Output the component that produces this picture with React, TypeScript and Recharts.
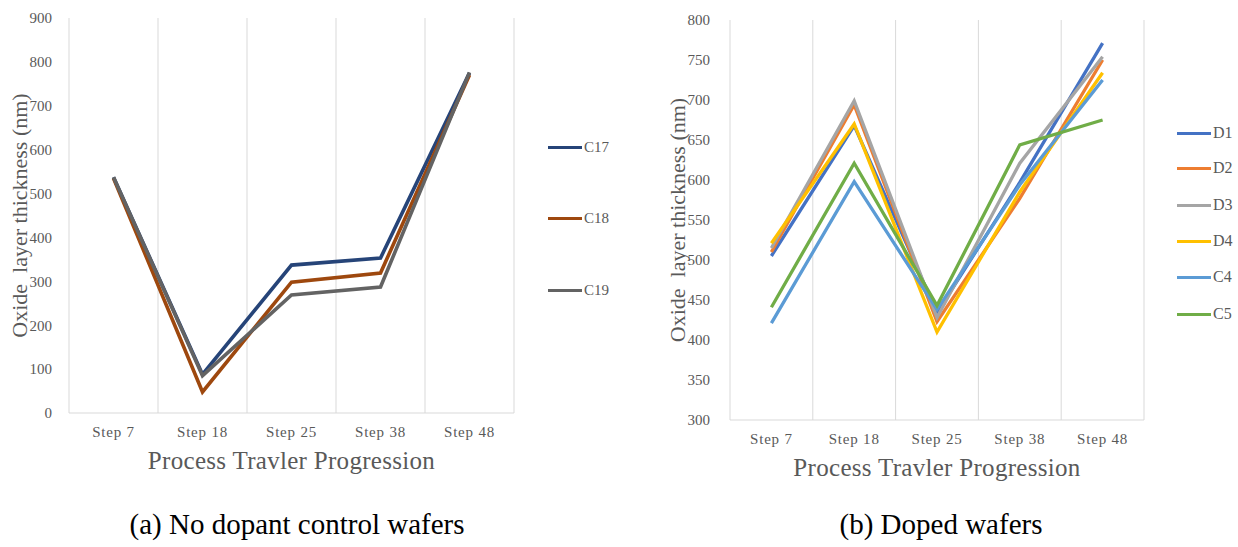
import { LineChart, Line, XAxis, YAxis, CartesianGrid } from 'recharts'

const steps = ['Step 7', 'Step 18', 'Step 25', 'Step 38', 'Step 48']

// (a) no dopant control wafers
const c17 = [537, 88, 337, 353, 775]
const c18 = [535, 48, 298, 319, 770]
const c19 = [537, 85, 269, 287, 776]
const controlTicks = [0, 100, 200, 300, 400, 500, 600, 700, 800, 900]

// (b) doped wafers
const d1 = [505, 668, 434, 597, 771]
const d2 = [510, 694, 423, 577, 750]
const d3 = [515, 699, 428, 621, 754]
const d4 = [521, 670, 410, 585, 734]
const c4 = [421, 598, 438, 594, 725]
const c5 = [441, 621, 443, 644, 675]
const dopedTicks = [300, 350, 400, 450, 500, 550, 600, 650, 700, 750, 800]

const controlSeries = [
  { key: 'C17', values: c17, color: '#264478' },
  { key: 'C18', values: c18, color: '#9E480E' },
  { key: 'C19', values: c19, color: '#636363' },
]
const dopedSeries = [
  { key: 'D1', values: d1, color: '#4472C4' },
  { key: 'D2', values: d2, color: '#ED7D31' },
  { key: 'D3', values: d3, color: '#A5A5A5' },
  { key: 'D4', values: d4, color: '#FFC000' },
  { key: 'C4', values: c4, color: '#5B9BD5' },
  { key: 'C5', values: c5, color: '#70AD47' },
]

const FONT = '"Liberation Serif", "DejaVu Serif", serif'
const TEXT_GREY = '#595959'
const GRID = '#d9d9d9'

type Series = { key: string; values: number[]; color: string }

const buildRows = (series: Series[]) =>
  steps.map((step, i) => {
    const row: Record<string, string | number> = { step }
    series.forEach((s) => (row[s.key] = s.values[i]))
    return row
  })

// vertical lines sit on the category boundaries, like Excel
const bandLines = ({ offset }: any) =>
  steps.concat('').map((_, i) => offset.left + (i * offset.width) / steps.length)

interface PanelProps {
  series: Series[]
  ticks: number[]
  width: number
  plotLeft: number
  plotRight: number
  plotTop: number
  plotBottom: number
  yTitleX: number
  yTickMargin: number
  strokeWidth: number
}

function Panel({ series, ticks, width, plotLeft, plotRight, plotTop, plotBottom, yTitleX, yTickMargin, strokeWidth }: PanelProps) {
  const height = 547
  const xAxisHeight = 60
  return (
    <LineChart
      width={width}
      height={height}
      data={buildRows(series)}
      margin={{ top: plotTop, right: width - plotRight, left: 0, bottom: height - plotBottom - xAxisHeight }}
    >
      <CartesianGrid horizontal={false} stroke={GRID} strokeWidth={1} verticalCoordinatesGenerator={bandLines} />
      <XAxis
        dataKey="step"
        scale="band"
        height={xAxisHeight}
        axisLine={{ stroke: GRID }}
        tickLine={false}
        tickMargin={7}
        interval={0}
        tick={{ fill: TEXT_GREY, fontSize: 15, fontFamily: FONT, letterSpacing: 0.8 }}
        label={(p: any) => (
          <text
            x={p.viewBox.x + p.viewBox.width / 2}
            y={p.viewBox.y + 47}
            textAnchor="middle"
            dominantBaseline="central"
            fill={TEXT_GREY}
            fontSize={25}
            fontFamily={FONT}
            letterSpacing={0.3}
          >
            Process Travler Progression
          </text>
        )}
      />
      <YAxis
        width={plotLeft}
        domain={[ticks[0], ticks[ticks.length - 1]]}
        ticks={ticks}
        interval={0}
        axisLine={false}
        tickLine={false}
        tickMargin={yTickMargin}
        tick={{ fill: TEXT_GREY, fontSize: 15, fontFamily: FONT }}
        label={(p: any) => {
          const cy = p.viewBox.y + p.viewBox.height / 2
          return (
            <text
              x={yTitleX}
              y={cy}
              transform={`rotate(-90, ${yTitleX}, ${cy})`}
              textAnchor="middle"
              dominantBaseline="central"
              fill={TEXT_GREY}
              fontSize={22}
              fontFamily={FONT}
              style={{ whiteSpace: 'pre' }}
            >
              {'Oxide  layer thickness (nm)'}
            </text>
          )
        }}
      />
      {series.map((s) => (
        <Line
          key={s.key}
          dataKey={s.key}
          stroke={s.color}
          strokeWidth={strokeWidth}
          dot={false}
          activeDot={false}
          isAnimationActive={false}
          strokeLinejoin="miter"
        />
      ))}
    </LineChart>
  )
}

function SideLegend({ series, left, tops, fontSize }: { series: Series[]; left: number; tops: number[]; fontSize: number }) {
  return (
    <>
      {series.map((s, i) => (
        <div
          key={s.key}
          style={{
            position: 'absolute',
            left,
            top: tops[i] - 10,
            height: 20,
            display: 'flex',
            alignItems: 'center',
            fontFamily: FONT,
            fontSize,
            color: TEXT_GREY,
          }}
        >
          <span style={{ display: 'inline-block', width: 34, height: 3, background: s.color, marginRight: 2 }} />
          {s.key}
        </div>
      ))}
    </>
  )
}

const captionStyle = {
  position: 'absolute' as const,
  top: 506,
  fontFamily: FONT,
  fontSize: 29,
  lineHeight: '36px',
  color: '#000',
  textAlign: 'center' as const,
  width: 500,
}

export default function App() {
  return (
    <div style={{ position: 'absolute', left: 0, top: 0, width: 1238, height: 547, background: '#fff', overflow: 'hidden' }}>
      <div style={{ position: 'absolute', left: 0, top: 0 }}>
        <Panel
          series={controlSeries}
          ticks={controlTicks}
          width={620}
          plotLeft={69}
          plotRight={514}
          plotTop={18}
          plotBottom={413}
          yTitleX={19}
          yTickMargin={11}
          strokeWidth={3.6}
        />
      </div>
      <div style={{ position: 'absolute', left: 620, top: 0 }}>
        <Panel
          series={dopedSeries}
          ticks={dopedTicks}
          width={618}
          plotLeft={110}
          plotRight={524}
          plotTop={20}
          plotBottom={420}
          yTitleX={57}
          yTickMargin={14}
          strokeWidth={3.3}
        />
      </div>
      <SideLegend series={controlSeries} left={548} tops={[147, 218, 290]} fontSize={15} />
      <SideLegend series={dopedSeries} left={1177} tops={[133, 168, 205, 241, 277, 314]} fontSize={16} />
      <div style={{ ...captionStyle, left: 297 - 250 }}>(a) No dopant control wafers</div>
      <div style={{ ...captionStyle, left: 941 - 250 }}>(b) Doped wafers</div>
    </div>
  )
}
